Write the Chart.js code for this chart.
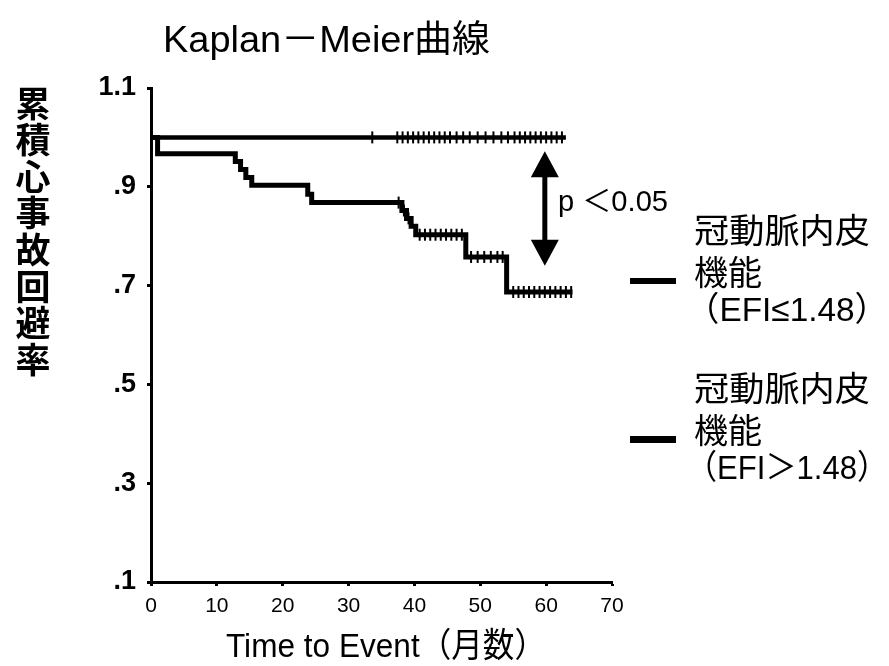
<!DOCTYPE html>
<html>
<head>
<meta charset="utf-8">
<script src="https://cdn.jsdelivr.net/npm/chart.js@4/dist/chart.umd.min.js"></script>
<style>
    html, body { margin: 0; padding: 0; background: #fff; }
    #wrap { width: 889px; height: 666px; position: relative; }
</style>
</head>
<body>
<div id="wrap"><canvas id="kmChart" width="889" height="666"></canvas></div>
<script>
// axis ticks
const xTicks = [0, 10, 20, 30, 40, 50, 60, 70];
const yTickValues = [0.1, 0.3, 0.5, 0.7, 0.9, 1.1];
const yTickLabels = ['.1', '.3', '.5', '.7', '.9', '1.1'];

// EFI > 1.48 : no events
const highTimes = [0, 63];
const highSurv = [1.0, 1.0];
const highCensor = [33.6, 37.4, 38.2, 39.0, 39.8, 40.6, 41.4, 42.2, 43.0, 43.8, 44.6, 45.4, 46.4, 47.4, 48.4, 49.6, 50.8, 52.0, 53.2, 54.2, 55.2, 56.0, 56.8, 57.6, 58.4, 59.2, 60.0, 60.8, 61.6, 62.4];

// EFI <= 1.48
const lowTimes = [0, 1, 12.8, 13.6, 14.4, 15.3, 23.8, 24.4, 38.1, 38.8, 39.5, 40.2, 47.8, 54.0, 64.0];
const lowSurv = [1.0, 0.967, 0.951, 0.935, 0.919, 0.903, 0.885, 0.868, 0.852, 0.836, 0.820, 0.803, 0.758, 0.687, 0.687];
const lowCensor = [37.6, 38.4, 39.1, 40.8, 41.6, 42.4, 43.2, 44.0, 44.8, 45.6, 46.4, 47.2, 48.6, 49.6, 50.6, 51.6, 52.6, 53.4, 55.0, 55.8, 56.6, 57.4, 58.2, 59.0, 59.8, 60.6, 61.4, 62.2, 63.0, 63.8];

const legendLabels = [
    ['冠動脈内皮', '機能', '（EFI≤1.48）'],
    ['冠動脈内皮', '機能', '（EFI＞1.48）']
];
const yTitle = '累積心事故回避率';
const chartTitle = 'Kaplan－Meier曲線';
const xTitle = 'Time to Event（月数）';
const pLabel = 'p ＜0.05';

const JP = '"Liberation Sans", Arial, "Noto Sans CJK JP", sans-serif';

function survAt(times, surv, t) {
    let v = surv[0];
    for (let i = 0; i < times.length; i++) {
        if (times[i] <= t) v = surv[i];
    }
    return v;
}

const toPoints = (xs, ys) => xs.map((x, i) => ({ x: x, y: ys[i] }));
const censorPoints = (cs, times, surv) => cs.map(t => ({ x: t, y: survAt(times, surv, t) }));

// draw text squeezed/stretched horizontally into a given width
function fillFit(ctx, text, x, y, w) {
    const m = ctx.measureText(text).width;
    ctx.save();
    ctx.translate(x, y);
    ctx.scale(w / m, 1);
    ctx.fillText(text, 0, 0);
    ctx.restore();
}

const extrasPlugin = {
    id: 'extras',
    afterDraw(chart) {
        const ctx = chart.ctx;
        const xs = chart.scales.x, ys = chart.scales.y;
        ctx.save();
        ctx.fillStyle = '#000';
        ctx.strokeStyle = '#000';
        ctx.textAlign = 'left';
        ctx.textBaseline = 'alphabetic';

        // title
        ctx.font = '37px ' + JP;
        fillFit(ctx, chartTitle, 163, 52, 327);

        // x title
        ctx.font = '34px ' + JP;
        fillFit(ctx, xTitle, 226, 657, 320);

        // stacked y title
        ctx.font = 'bold 35px ' + JP;
        ctx.textAlign = 'center';
        ctx.textBaseline = 'middle';
        [...yTitle].forEach((ch, i) => ctx.fillText(ch, 33, 107 + i * 36.6));
        ctx.textAlign = 'left';

        // double arrow between curves
        const ax = xs.getPixelForValue(59.8);
        const top = ys.getPixelForValue(0.972), bot = ys.getPixelForValue(0.74);
        ctx.lineWidth = 5;
        ctx.beginPath();
        ctx.moveTo(ax, top + 18);
        ctx.lineTo(ax, bot - 18);
        ctx.stroke();
        ctx.beginPath();
        ctx.moveTo(ax, top); ctx.lineTo(ax - 14, top + 26); ctx.lineTo(ax + 14, top + 26); ctx.closePath();
        ctx.moveTo(ax, bot); ctx.lineTo(ax - 14, bot - 26); ctx.lineTo(ax + 14, bot - 26); ctx.closePath();
        ctx.fill();

        ctx.font = '30px ' + JP;
        fillFit(ctx, pLabel, 558, 203, 110);

        // legend
        const rows = [281, 439];
        ctx.font = '34px ' + JP;
        ctx.textBaseline = 'middle';
        rows.forEach((y, k) => {
            ctx.fillRect(630, y - 3, 46, k === 0 ? 6 : 7);
            fillFit(ctx, legendLabels[k][0], 694, y - 47, 176);
            ctx.fillText(legendLabels[k][1], 694, y - 5);
            fillFit(ctx, legendLabels[k][2], 686, y + 31, 202);
        });
        ctx.restore();
    }
};

new Chart(document.getElementById('kmChart'), {
    type: 'line',
    data: {
        datasets: [
            {
                data: toPoints(highTimes, highSurv),
                borderColor: '#000', borderWidth: 4.5, stepped: true,
                pointRadius: 0
            },
            {
                data: toPoints(lowTimes, lowSurv),
                borderColor: '#000', borderWidth: 5, stepped: true,
                pointRadius: 0
            },
            {
                type: 'scatter',
                data: censorPoints(highCensor, highTimes, highSurv)
                    .concat(censorPoints(lowCensor, lowTimes, lowSurv)),
                pointStyle: 'line', rotation: 90, pointRadius: 6,
                borderColor: '#000', pointBorderWidth: 2, showLine: false
            }
        ]
    },
    options: {
        responsive: false,
        animation: false,
        layout: { padding: { top: 88, right: 277, bottom: 0, left: 0 } },
        plugins: { legend: { display: false }, tooltip: { enabled: false } },
        scales: {
            x: {
                type: 'linear', min: 0, max: 70,
                afterBuildTicks: s => { s.ticks = xTicks.map(v => ({ value: v })); },
                afterFit: s => { s.height = 84; },
                border: { color: '#000', width: 3 },
                grid: { drawOnChartArea: false, color: '#000', tickLength: 4, tickWidth: 3 },
                ticks: { color: '#000', font: { family: JP, size: 21 }, padding: 8, maxRotation: 0 }
            },
            y: {
                type: 'linear', min: 0.1, max: 1.1,
                afterBuildTicks: s => { s.ticks = yTickValues.map(v => ({ value: v })); },
                afterFit: s => { s.width = 151; },
                border: { color: '#000', width: 3 },
                grid: { drawOnChartArea: false, color: '#000', tickLength: 4, tickWidth: 3 },
                ticks: {
                    color: '#000', font: { family: JP, size: 27, weight: 'bold' }, padding: 11,
                    callback: (v, i) => yTickLabels[i]
                }
            }
        }
    },
    plugins: [extrasPlugin]
});
</script>
</body>
</html>
